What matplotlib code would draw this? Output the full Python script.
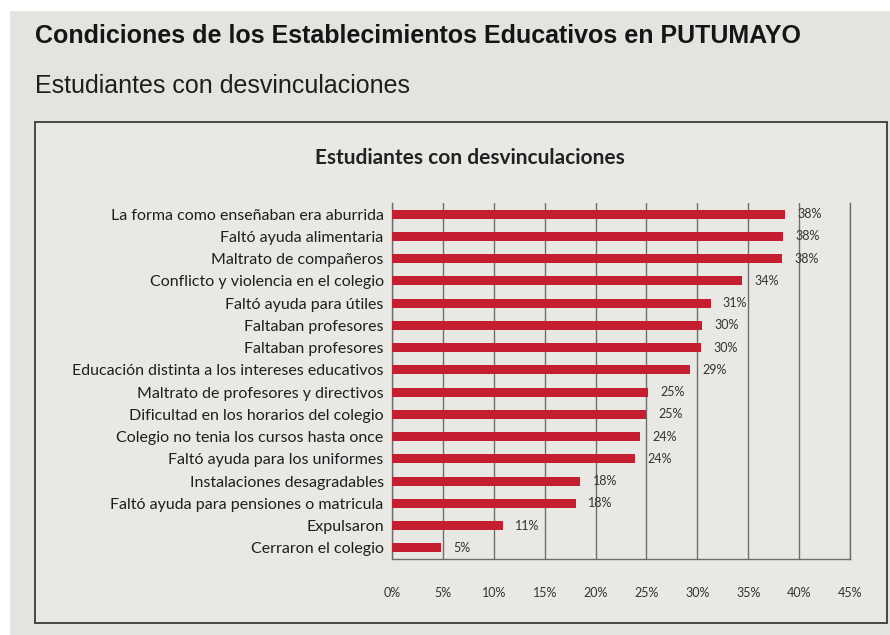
import matplotlib.pyplot as plt
from matplotlib.patches import Rectangle

# categories from top to bottom, as in the picture
categorias = [
    "La forma como enseñaban era aburrida",
    "Faltó ayuda alimentaria",
    "Maltrato de compañeros",
    "Conflicto y violencia en el colegio",
    "Faltó ayuda para útiles",
    "Faltaban profesores",
    "Faltaban profesores",
    "Educación distinta a los intereses educativos",
    "Maltrato de profesores y directivos",
    "Dificultad en los horarios del colegio",
    "Colegio no tenia los cursos hasta once",
    "Faltó ayuda para los uniformes",
    "Instalaciones desagradables",
    "Faltó ayuda para pensiones o matricula",
    "Expulsaron",
    "Cerraron el colegio",
]
valores = [38.6, 38.4, 38.3, 34.4, 31.3, 30.5, 30.4, 29.3, 25.2, 25.0, 24.4, 23.9, 18.5, 18.1, 10.9, 4.8]
etiquetas = ["38%", "38%", "38%", "34%", "31%", "30%", "30%", "29%",
             "25%", "25%", "24%", "24%", "18%", "18%", "11%", "5%"]
ticks_x = [0, 5, 10, 15, 20, 25, 30, 35, 40, 45]

fondo = "#e5e3df"
rojo = "#c41e30"

fig = plt.figure(figsize=(8.9, 6.35), dpi=100)
fig.patch.set_facecolor("white")

# photo background and chart box (pixel coords converted to figure fractions)
W, H = 890, 635
fig.add_artist(Rectangle((10 / W, 0), 1, 1 - 11 / H, transform=fig.transFigure,
                         facecolor=fondo, edgecolor="none", zorder=0))
fig.add_artist(Rectangle((35 / W, 1 - 623 / H), (887 - 35) / W, (623 - 122) / H,
                         transform=fig.transFigure, facecolor="#e9e8e5",
                         edgecolor="#3a3a3a", linewidth=1.3, zorder=1))

fig.text(35 / W, 1 - 36 / H, "Condiciones de los Establecimientos Educativos en PUTUMAYO",
         fontsize=18, fontweight="bold", family="Liberation Sans", color="#151515", va="center")
fig.text(35 / W, 1 - 86 / H, "Estudiantes con desvinculaciones",
         fontsize=18, family="Liberation Sans", color="#1e1e1e", va="center")
fig.text(470 / W, 1 - 158 / H, "Estudiantes con desvinculaciones",
         fontsize=15, fontweight="bold", family="Lato", color="#222222",
         ha="center", va="center")

ax = fig.add_axes([392 / W, 1 - 559 / H, (850 - 392) / W, (559 - 203) / H])
ax.set_facecolor("none")
ax.set_zorder(2)

y = list(range(len(categorias)))
ax.barh(y, valores, height=0.4, color=rojo, zorder=3)
for yi, v, t in zip(y, valores, etiquetas):
    ax.text(v + 1.2, yi, t, va="center", ha="left", fontsize=9,
            family="Lato", color="#333333", zorder=4)

ax.set_xlim(0, 45)
ax.set_ylim(len(categorias) - 0.5, -0.5)
ax.set_xticks(ticks_x)
ax.set_xticklabels([f"{t}%" for t in ticks_x], family="Lato", fontsize=9, color="#333333")
ax.set_yticks(y)
ax.set_yticklabels(categorias, family="Lato", fontsize=11.5, color="#1e1e1e")
ax.tick_params(axis="x", length=0, pad=20)
ax.tick_params(axis="y", length=0, pad=6)
ax.grid(axis="x", color="#6e6e6e", linewidth=1.0, zorder=1)
ax.set_axisbelow(True)
ax.spines["top"].set_visible(False)
for s in ["left", "bottom", "right"]:
    ax.spines[s].set_color("#6e6e6e")
    ax.spines[s].set_linewidth(1.0)

fig.savefig("out.png", dpi=100)
